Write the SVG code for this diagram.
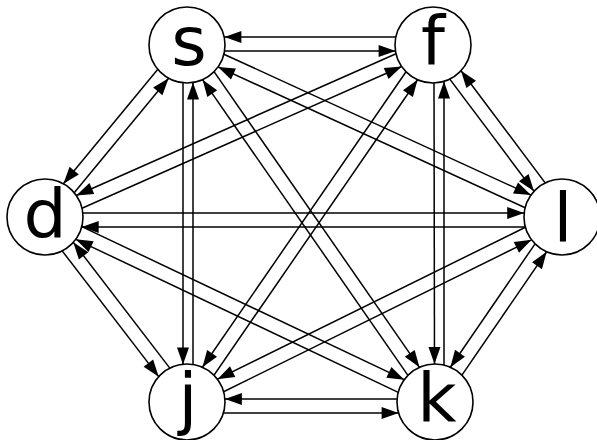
<svg xmlns="http://www.w3.org/2000/svg" width="597" height="440" viewBox="0 0 597 440">
<style>
.e{stroke:#000;stroke-width:1.5;fill:none;marker-end:url(#ah)}
.n{fill:#fff;stroke:#000;stroke-width:1.6}
.t{font-family:"DejaVu Sans",sans-serif;font-size:68px;text-anchor:middle;fill:#000}
</style>
<defs>
<marker id="ah" markerUnits="userSpaceOnUse" markerWidth="18" markerHeight="13" refX="17" refY="6" orient="auto" overflow="visible">
<path d="M0,0 L17,6 L0,12 z" fill="#000"/>
</marker>
</defs>
<rect width="597" height="440" fill="#fff"/>
<g id="edges">
<line class="e" x1="224.4" y1="51" x2="395.6" y2="51"/>
<line class="e" x1="395.6" y1="37" x2="224.4" y2="37"/>
<line class="e" x1="183" y1="82.5" x2="183" y2="364.5"/>
<line class="e" x1="193" y1="364.5" x2="193" y2="82.5"/>
<line class="e" x1="434" y1="83" x2="434.5" y2="364"/>
<line class="e" x1="444" y1="365.1" x2="444" y2="81.4"/>
<line class="e" x1="223.4" y1="413" x2="398.6" y2="413"/>
<line class="e" x1="397.1" y1="399" x2="224.9" y2="399"/>
<line class="e" x1="525.3" y1="227" x2="81.7" y2="227"/>
<line class="e" x1="82.8" y1="213" x2="524.2" y2="213"/>
<line class="e" x1="157.82" y1="69.34" x2="63.38" y2="183.74"/>
<line class="e" x1="74.18" y1="192.66" x2="168.62" y2="78.26"/>
<line class="e" x1="81.99" y1="208.26" x2="401.69" y2="66.54"/>
<line class="e" x1="396.01" y1="53.74" x2="76.31" y2="195.46"/>
<line class="e" x1="525.13" y1="207.79" x2="218.03" y2="66.93"/>
<line class="e" x1="223.87" y1="54.21" x2="530.97" y2="195.07"/>
<line class="e" x1="407.94" y1="375.31" x2="202.56" y2="79.67"/>
<line class="e" x1="214.06" y1="71.69" x2="419.44" y2="367.33"/>
<line class="e" x1="406.05" y1="71.78" x2="202.43" y2="367.28"/>
<line class="e" x1="213.95" y1="375.22" x2="417.57" y2="79.72"/>
<line class="e" x1="449.81" y1="79.08" x2="533.99" y2="191.32"/>
<line class="e" x1="545.19" y1="182.92" x2="461.01" y2="70.68"/>
<line class="e" x1="62.19" y1="250.89" x2="158.71" y2="376.63"/>
<line class="e" x1="169.81" y1="368.11" x2="73.29" y2="242.37"/>
<line class="e" x1="398.25" y1="392.32" x2="75.75" y2="239.34"/>
<line class="e" x1="81.75" y1="226.69" x2="404.25" y2="379.67"/>
<line class="e" x1="223.6" y1="391.76" x2="531.6" y2="239.8"/>
<line class="e" x1="525.4" y1="227.24" x2="217.4" y2="379.2"/>
<line class="e" x1="461.91" y1="375.17" x2="546.63" y2="251.75"/>
<line class="e" x1="535.09" y1="243.83" x2="450.37" y2="367.25"/>
</g>
<g id="node-s"><circle class="n" cx="187" cy="45" r="38"/><text class="t" x="189" y="65">s</text></g>
<g id="node-f"><circle class="n" cx="433" cy="45" r="38"/><text class="t" x="433" y="65">f</text></g>
<g id="node-d"><circle class="n" cx="45" cy="217" r="38"/><text class="t" x="45" y="238">d</text></g>
<g id="node-l"><circle class="n" cx="562" cy="217" r="38"/><text class="t" x="563" y="242">l</text></g>
<g id="node-j"><circle class="n" cx="187" cy="402" r="38"/><text class="t" x="188" y="422">j</text></g>
<g id="node-k"><circle class="n" cx="435" cy="402" r="38"/><text class="t" x="437" y="422">k</text></g>
</svg>
